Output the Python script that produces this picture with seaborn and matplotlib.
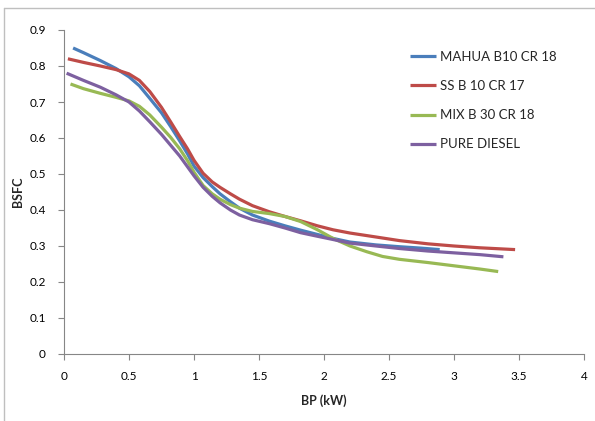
import matplotlib
matplotlib.use("Agg")
import matplotlib.pyplot as plt
from matplotlib.lines import Line2D
import seaborn as sns
import pandas as pd

# Data
mahua_x = [0.07, 0.15, 0.28, 0.4, 0.5, 0.58, 0.66, 0.75, 0.82, 0.89, 0.95, 1.0, 1.07, 1.14, 1.2,
           1.28, 1.35, 1.45, 1.58, 1.7, 1.82, 1.95, 2.07, 2.2, 2.4, 2.58, 2.75, 2.89]
mahua_y = [0.85, 0.837, 0.815, 0.793, 0.77, 0.745, 0.71, 0.67, 0.632, 0.592, 0.556, 0.522, 0.49, 0.465, 0.445,
           0.423, 0.405, 0.386, 0.369, 0.356, 0.344, 0.332, 0.321, 0.311, 0.303, 0.298, 0.294, 0.29]

ss_x = [0.03, 0.15, 0.28, 0.4, 0.5, 0.58, 0.66, 0.75, 0.82, 0.89, 0.95, 1.0, 1.07, 1.14, 1.2,
        1.28, 1.35, 1.45, 1.58, 1.7, 1.82, 1.95, 2.07, 2.2, 2.4, 2.58, 2.8, 3.0, 3.2, 3.47]
ss_y = [0.82, 0.81, 0.80, 0.79, 0.778, 0.76, 0.729, 0.685, 0.645, 0.604, 0.57, 0.538, 0.502, 0.478, 0.463,
        0.445, 0.43, 0.412, 0.395, 0.382, 0.37, 0.356, 0.345, 0.336, 0.325, 0.315, 0.306, 0.30, 0.295, 0.29]

mix_x = [0.05, 0.15, 0.28, 0.4, 0.5, 0.58, 0.66, 0.75, 0.82, 0.89, 0.95, 1.0, 1.07, 1.14, 1.2,
         1.28, 1.35, 1.45, 1.58, 1.7, 1.82, 1.95, 2.07, 2.2, 2.33, 2.45, 2.58, 2.8, 3.0, 3.2, 3.34]
mix_y = [0.75, 0.737, 0.724, 0.713, 0.703, 0.688, 0.664, 0.63, 0.602, 0.57, 0.537, 0.505, 0.468, 0.445, 0.43,
         0.415, 0.405, 0.396, 0.39, 0.382, 0.368, 0.345, 0.321, 0.30, 0.284, 0.271, 0.263, 0.254, 0.245, 0.236, 0.229]

diesel_x = [0.02, 0.15, 0.28, 0.4, 0.5, 0.58, 0.66, 0.75, 0.82, 0.89, 0.95, 1.0, 1.07, 1.14, 1.2,
            1.28, 1.35, 1.45, 1.58, 1.7, 1.82, 1.95, 2.07, 2.2, 2.4, 2.58, 2.8, 3.0, 3.2, 3.38]
diesel_y = [0.78, 0.76, 0.741, 0.72, 0.70, 0.675, 0.645, 0.61, 0.58, 0.55, 0.52, 0.495, 0.463, 0.438, 0.42,
            0.40, 0.386, 0.373, 0.362, 0.35, 0.337, 0.327, 0.318, 0.308, 0.3, 0.293, 0.286, 0.281, 0.276, 0.27]

labels = ['MAHUA B10 CR 18', 'SS B 10 CR 17', 'MIX B 30 CR 18', 'PURE DIESEL']
colors = ['#4A7EBB', '#BE4B48', '#98B954', '#7D60A0']

frames = []
for name, xs, ys in zip(labels, [mahua_x, ss_x, mix_x, diesel_x], [mahua_y, ss_y, mix_y, diesel_y]):
    frames.append(pd.DataFrame({'BP': xs, 'BSFC': ys, 'Fuel': name}))
df = pd.concat(frames, ignore_index=True)

sns.set_style("white")
plt.rcParams['font.family'] = ['Lato', 'DejaVu Sans']

fig = plt.figure(figsize=(5.95, 4.21), dpi=100)
ax = fig.add_axes([64 / 595, 1 - 354 / 421, 520 / 595, 324 / 421])

sns.lineplot(data=df, x='BP', y='BSFC', hue='Fuel', hue_order=labels,
             palette=colors, sort=False, estimator=None, linewidth=2.3, ax=ax,
             solid_joinstyle='round', solid_capstyle='butt')

ax.set_xlim(0, 4)
ax.set_ylim(0, 0.9)
ax.set_xticks([0, 0.5, 1, 1.5, 2, 2.5, 3, 3.5, 4])
ax.set_xticklabels(['0', '0.5', '1', '1.5', '2', '2.5', '3', '3.5', '4'])
ax.set_yticks([0, 0.1, 0.2, 0.3, 0.4, 0.5, 0.6, 0.7, 0.8, 0.9])
ax.set_yticklabels(['0', '0.1', '0.2', '0.3', '0.4', '0.5', '0.6', '0.7', '0.8', '0.9'])
ax.tick_params(axis='both', direction='out', length=4, width=0.8, color='#868686',
               labelsize=8.5, labelcolor='#000000')
ax.tick_params(axis='x', bottom=True, pad=8)
ax.tick_params(axis='y', left=True, pad=9)
for side in ['top', 'right']:
    ax.spines[side].set_visible(False)
for side in ['left', 'bottom']:
    ax.spines[side].set_color('#868686')
    ax.spines[side].set_linewidth(0.8)

ax.set_xlabel('BP (kW)', fontsize=9, fontweight='bold', labelpad=9)
ax.set_ylabel('BSFC', fontsize=9, fontweight='bold', labelpad=4)

leg = ax.legend(loc='upper left', bbox_to_anchor=(398 / 595, 1 - 39 / 421),
                bbox_transform=fig.transFigure, frameon=False, fontsize=9.5,
                handlelength=2.0, handletextpad=0.25, labelspacing=1.3)
for line in leg.get_lines():
    line.set_linewidth(2.3)

# chart area border (left and top edges visible)
fig.add_artist(Line2D([4 / 595, 4 / 595], [0, 1 - 8 / 421], transform=fig.transFigure,
                      color='#bfbfbf', linewidth=1))
fig.add_artist(Line2D([4 / 595, 1], [1 - 8 / 421, 1 - 8 / 421], transform=fig.transFigure,
                      color='#bfbfbf', linewidth=1))

plt.savefig('out.png', dpi=100)
